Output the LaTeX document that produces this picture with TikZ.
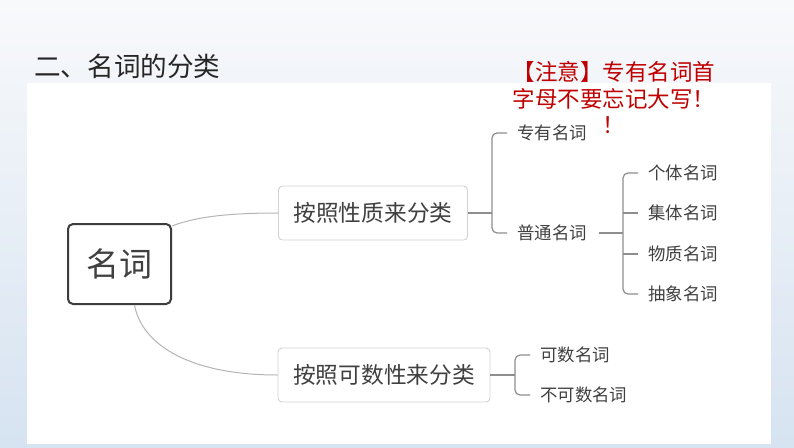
\documentclass[tikz,border=0pt]{standalone}
\usepackage{fontspec}
\newfontfamily\cjk{Noto Sans CJK SC}
\usetikzlibrary{calc}
\definecolor{txt}{HTML}{404040}
\definecolor{brk}{HTML}{8E8E8E}
\definecolor{crv}{HTML}{B4B4B4}
\definecolor{boxb}{HTML}{D2D2D2}
\definecolor{mainb}{HTML}{3C3C3C}
\definecolor{note}{HTML}{C00000}
\tikzset{
  rootbox/.style={draw=mainb, line width=2pt, rounded corners=5pt, minimum width=103pt, minimum height=80pt, inner sep=0pt, text=txt, font=\cjk\fontsize{33}{37}\selectfont},
  midbox/.style={draw=boxb, line width=0.9pt, rounded corners=4pt, minimum height=54pt, inner sep=0pt, text=txt, font=\cjk\fontsize{22.7}{26}\selectfont},
  leaf/.style={anchor=west, inner sep=2pt, text=txt, font=\cjk\fontsize{17.4}{20}\selectfont},
  brline/.style={draw=brk, line width=1.2pt, rounded corners=5pt},
  curveline/.style={draw=crv, line width=1pt}
}
\begin{document}
\begin{tikzpicture}[x=1pt,y=-1pt]
\useasboundingbox (0,0) rectangle (794,447);
\fill[top color={rgb,255:red,248;green,249;blue,251}, bottom color={rgb,255:red,214;green,227;blue,241}] (0,0) rectangle (794,447);
\fill[white] (27,83) rectangle (771,444);

\node[anchor=west, inner sep=0pt, text={rgb,255:red,38;green,38;blue,38}, font=\cjk\fontsize{26.6}{30}\selectfont] (title) at (34,66) {二、名词的分类};
\node[align=center, inner sep=0pt, text=note, font=\cjk\fontsize{22.5}{26.5}\selectfont] (tip) at (614,98) {【注意】专有名词首\\字母不要忘记大写！\\！};

\node[rootbox] (root) at (119.5,264) {名词};
\node[midbox, minimum width=189pt] (b1) at (373,213) {按照性质来分类};
\node[midbox, minimum width=212pt] (b2) at (384,375) {按照可数性来分类};

\node[leaf] (zy) at (515,133) {专有名词};
\node[leaf] (pt) at (515,233) {普通名词};
\node[leaf] (gt) at (646,173) {个体名词};
\node[leaf] (jt) at (646,213) {集体名词};
\node[leaf] (wz) at (646,254) {物质名词};
\node[leaf] (cx) at (646,294) {抽象名词};
\node[leaf] (ks) at (538,355) {可数名词};
\node[leaf] (bks) at (538,395) {不可数名词};

% curves from root
\coordinate (r1) at ($(root.north east)+(0,3)$);
\draw[curveline] (r1) .. controls (200,215) and (240,213) .. (b1.west);
\coordinate (r2) at ($(root.south)+(15,0)$);
\draw[curveline] (r2) .. controls (142,345) and (190,375) .. (b2.west);

% bracket 1
\coordinate (j1) at (492,213);
\draw[brline] (b1.east) -- (j1);
\draw[brline] ($(zy.west)+(-8,0)$) -| (j1) |- ($(pt.west)+(-8,0)$);

% bracket 2
\coordinate (j2) at (623,233);
\draw[brline] ($(pt.east)+(10,0)$) -- (j2);
\draw[brline] ($(gt.west)+(-8,0)$) -| (j2) |- ($(cx.west)+(-8,0)$);
\draw[brline] (623,213) -- ($(jt.west)+(-8,0)$);
\draw[brline] (623,254) -- ($(wz.west)+(-8,0)$);

% bracket 3
\coordinate (j3) at (515,375);
\draw[brline] (b2.east) -- (j3);
\draw[brline] ($(ks.west)+(-8,0)$) -| (j3) |- ($(bks.west)+(-8,0)$);
\end{tikzpicture}
\end{document}
